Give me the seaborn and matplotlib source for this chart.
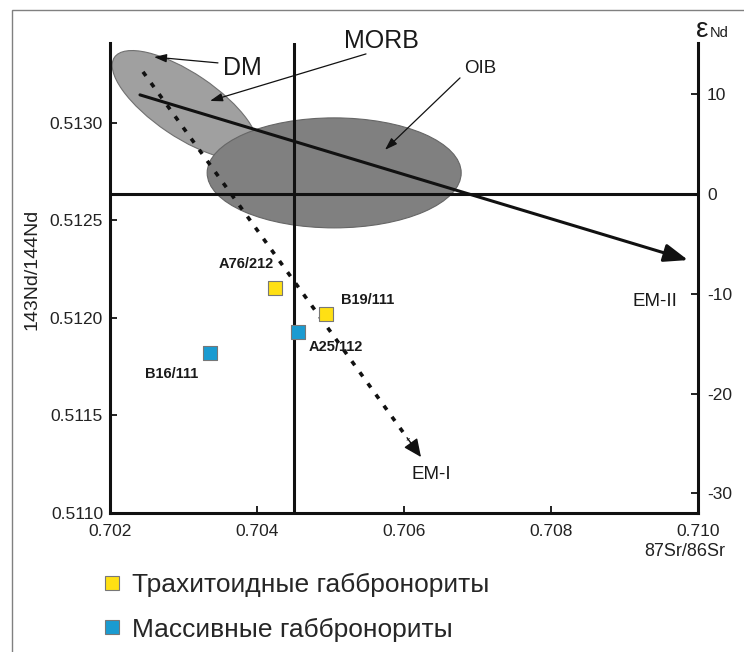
import numpy as np
import pandas as pd
import matplotlib
matplotlib.use("Agg")
import matplotlib.pyplot as plt
import seaborn as sns
from matplotlib.patches import Ellipse, Rectangle
from matplotlib.transforms import Affine2D
from matplotlib.ticker import FormatStrFormatter, FixedLocator

# ---------------- data ----------------
samples = ["A76/212", "B19/111", "A25/112", "B16/111"]
groups = ["Трахитоидные габбронориты", "Трахитоидные габбронориты",
          "Массивные габбронориты", "Массивные габбронориты"]
sr = [0.70424, 0.70494, 0.70456, 0.70336]
nd = [0.512154, 0.512021, 0.511928, 0.511821]

group_order = ["Трахитоидные габбронориты", "Массивные габбронориты"]
group_colors = ["#ffe014", "#1a9bd1"]

x_ticks = [0.702, 0.704, 0.706, 0.708, 0.710]
y_ticks = [0.5110, 0.5115, 0.5120, 0.5125, 0.5130]
eps_ticks = [10, 0, -10, -20, -30]

CHUR_ND = 0.512638
BSE_SR = 0.7045

# mantle reservoirs fields (data coordinates)
oib_center = (0.70505, 0.512744)
oib_size = (0.003456, 0.000564)
dm_center = (0.70302, 0.513092)
dm_axis1 = (0.000960, -0.000244)
dm_axis2 = (0.000243, 0.000136)

# mixing trends (start, end)
em2_trend = [(0.702408, 0.513144), (0.709864, 0.512297)]
em1_trend = [(0.702449, 0.513262), (0.706231, 0.511287)]

# reservoir labels and pointers
res_labels = ["DM", "MORB", "OIB", "EM-II", "EM-I"]
res_label_x = [0.703796, 0.705687, 0.707034, 0.709415, 0.706367]
res_label_y = [0.513282, 0.513421, 0.513277, 0.512082, 0.511195]
pointers = [((0.703469, 0.513308), (0.702599, 0.513338)),
            ((0.705483, 0.513354), (0.703361, 0.513113)),
            ((0.706762, 0.513231), (0.705741, 0.512862))]

sample_label_x = [0.703850, 0.705510, 0.705075, 0.702844]
sample_label_y = [0.512277, 0.512092, 0.511851, 0.511713]

df = pd.DataFrame({"sample": samples, "group": groups, "sr": sr, "nd": nd})

# ---------------- plot ----------------
sns.set_theme(style="white")
plt.rcParams["font.family"] = ["Liberation Sans", "DejaVu Sans"]
plt.rcParams["axes.unicode_minus"] = False

fig = plt.figure(figsize=(7.44, 6.52), dpi=100)
fig.patch.set_facecolor("white")
ax = fig.add_axes([110 / 744, 1 - 513 / 652, 588 / 744, 470 / 652])
ax.set_facecolor("white")

ax.set_xlim(0.702, 0.710)
ax.set_ylim(0.5110, 0.51341)

# fields
dm = Ellipse((0, 0), 2, 2, facecolor="#a0a0a0", edgecolor="#707070", lw=0.8, zorder=1)
dm.set_transform(Affine2D(np.array([[dm_axis1[0], dm_axis2[0], dm_center[0]],
                                    [dm_axis1[1], dm_axis2[1], dm_center[1]],
                                    [0, 0, 1]])) + ax.transData)
ax.add_patch(dm)
oib = Ellipse(oib_center, oib_size[0], oib_size[1], facecolor="#808080",
              edgecolor="#666666", lw=0.8, zorder=2)
ax.add_patch(oib)

# reference lines
ax.axvline(BSE_SR, color="#111111", lw=2.2, zorder=3)
ax.axhline(CHUR_ND, color="#111111", lw=2.2, zorder=3)

# EM-II trend (solid arrow)
ax.annotate("", xy=em2_trend[1], xytext=em2_trend[0],
            arrowprops=dict(arrowstyle="-|>,head_length=1.45,head_width=0.55",
                            mutation_scale=10, lw=2.2, color="#111111",
                            shrinkA=0, shrinkB=0), zorder=4)

# EM-I trend (dotted arrow)
(x0, y0), (x1, y1) = em1_trend
ax.plot([x0, x0 + 0.955 * (x1 - x0)], [y0, y0 + 0.955 * (y1 - y0)],
        color="#111111", lw=2.6, linestyle=(0, (1.4, 2.4)), zorder=4,
        solid_capstyle="butt", dash_capstyle="butt")
ax.annotate("", xy=(x1, y1), xytext=(x0 + 0.95 * (x1 - x0), y0 + 0.95 * (y1 - y0)),
            arrowprops=dict(arrowstyle="-|>,head_length=1.1,head_width=0.5",
                            mutation_scale=10, lw=1, color="#111111",
                            shrinkA=0, shrinkB=0), zorder=4)

# pointers
for (p0, p1) in pointers:
    ax.annotate("", xy=p1, xytext=p0,
                arrowprops=dict(arrowstyle="-|>,head_length=0.75,head_width=0.25",
                                mutation_scale=10, lw=0.9, color="#111111",
                                shrinkA=0, shrinkB=0), zorder=5,
                annotation_clip=False)

# reservoir labels
res_sizes = [18, 18, 13.5, 13.5, 13.5]
for lab, lx, ly, fs in zip(res_labels, res_label_x, res_label_y, res_sizes):
    ax.text(lx, ly, lab, ha="center", va="center", fontsize=fs, color="#1a1a1a",
            zorder=6)

# samples
sns.scatterplot(data=df, x="sr", y="nd", hue="group", hue_order=group_order,
                palette=group_colors, marker="s", s=100, edgecolor="#777777",
                linewidth=0.8, ax=ax, zorder=7, legend=True)

for lab, lx, ly in zip(samples, sample_label_x, sample_label_y):
    ax.text(lx, ly, lab, ha="center", va="center", fontsize=10.5,
            fontweight="bold", color="#1a1a1a", zorder=6)

# axes styling
for side in ["top", "right"]:
    ax.spines[side].set_visible(False)
for side in ["left", "bottom"]:
    ax.spines[side].set_linewidth(2.2)
    ax.spines[side].set_color("#111111")

ax.xaxis.set_major_locator(FixedLocator(x_ticks))
ax.yaxis.set_major_locator(FixedLocator(y_ticks))
ax.xaxis.set_major_formatter(FormatStrFormatter("%.3f"))
ax.yaxis.set_major_formatter(FormatStrFormatter("%.4f"))
ax.tick_params(axis="x", direction="in", length=5, width=1.3, labelsize=12.5,
               pad=8, colors="#111111", labelcolor="#222222", bottom=True)
ax.tick_params(axis="y", direction="in", length=5, width=1.3, labelsize=12.5,
               pad=5, colors="#111111", labelcolor="#222222", left=True)

ax.set_xlabel("87Sr/86Sr", fontsize=13)
ax.xaxis.set_label_coords((725 - 110) / 588, (513 - 552) / 470)
ax.xaxis.label.set_ha("right")
ax.xaxis.label.set_va("center")
ax.xaxis.label.set_color("#222222")

ax.set_ylabel("143Nd/144Nd", fontsize=14)
ax.yaxis.set_label_coords((32 - 110) / 588, (513 - 269) / 470)
ax.yaxis.label.set_va("center")
ax.yaxis.label.set_color("#222222")

# epsilon Nd axis
def nd2eps(v):
    return (np.asarray(v) / CHUR_ND - 1.0) * 1e4

def eps2nd(e):
    return CHUR_ND * (1.0 + np.asarray(e) / 1e4)

sec = ax.secondary_yaxis("right", functions=(nd2eps, eps2nd))
sec.yaxis.set_major_locator(FixedLocator(eps_ticks))
sec.yaxis.set_major_formatter(FormatStrFormatter("%d"))
sec.tick_params(direction="in", length=5, width=1.3, labelsize=12.5, pad=6.5,
                colors="#111111", labelcolor="#222222")
sec.spines["right"].set_linewidth(2.2)
sec.spines["right"].set_color("#111111")

ax.annotate("ε", xy=(1, 1), xycoords="axes fraction", xytext=(-1.5, 4),
            textcoords="offset points", ha="left", va="baseline",
            fontsize=20, color="#1a1a1a")
ax.annotate("Nd", xy=(1, 1), xycoords="axes fraction", xytext=(8.5, 4),
            textcoords="offset points", ha="left", va="baseline",
            fontsize=10.5, color="#1a1a1a")

# legend
handles, labels = ax.get_legend_handles_labels()
ax.get_legend().remove()
fig.legend(handles, labels, loc="upper left",
           bbox_to_anchor=(104 / 744, 1 - 573 / 652), frameon=False,
           fontsize=19, handlelength=0.6, handletextpad=0.45,
           labelspacing=0.78, borderpad=0, borderaxespad=0, markerscale=0.95)

# outer frame
fig.add_artist(Rectangle((12 / 744, -0.1), 2, 1 - 10 / 652 + 0.1,
                         transform=fig.transFigure, fill=False,
                         edgecolor="#808080", lw=1.0, clip_on=False))

fig.savefig("out.png", dpi=100, facecolor="white")
